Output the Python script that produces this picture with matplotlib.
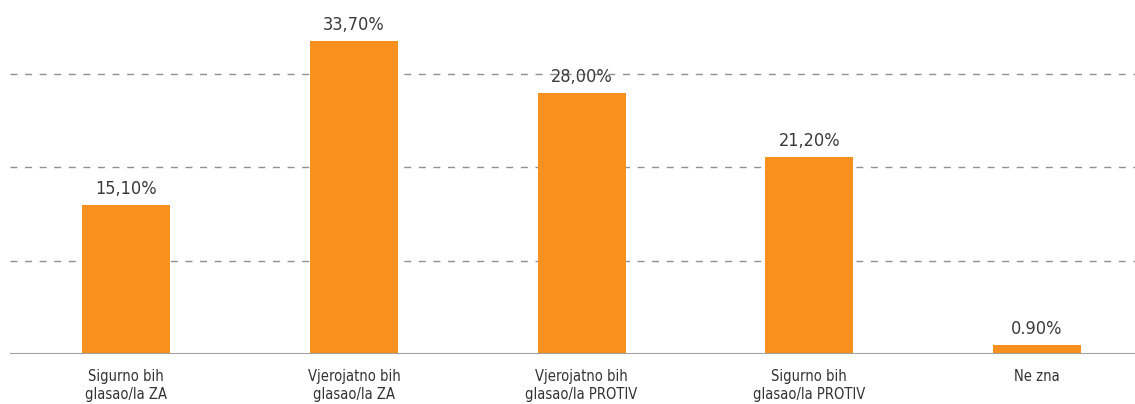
import matplotlib
matplotlib.use("Agg")
import matplotlib.pyplot as plt

categories = ["Sigurno bih\nglasao/la ZA", "Vjerojatno bih\nglasao/la ZA",
              "Vjerojatno bih\nglasao/la PROTIV", "Sigurno bih\nglasao/la PROTIV", "Ne zna"]
values = [15.9, 33.5, 27.9, 21.1, 0.95]
value_labels = ["15,10%", "33,70%", "28,00%", "21,20%", "0.90%"]
gridvals = [10, 20, 30]

plt.rcParams['font.family'] = ['Liberation Sans Narrow', 'DejaVu Sans']
plt.rcParams['font.stretch'] = 'condensed'

fig = plt.figure(figsize=(11.35, 4.04), dpi=100)
ax = fig.add_axes([10/1135, 50/404, 1 - 10/1135, 354/404])
x = list(range(len(values)))
ax.bar(x, values, width=0.386, color="#F7901E", zorder=3)
for g in gridvals:
    ax.axhline(g, color="#909090", linestyle=(0, (5, 5.5)), linewidth=1.0, zorder=1)
ax.axhline(0, color="#a0a0a0", linewidth=2.2, zorder=4)
for xi, v, lab in zip(x, values, value_labels):
    ax.text(xi, v + 0.75, lab, ha="center", va="bottom", fontsize=13, color="#3a3a3a",
            fontstretch='condensed')
ax.set_xlim(-0.51, 4.43)
ax.set_ylim(0, 37.9)
ax.set_xticks(x)
ax.set_xticklabels(categories, fontsize=10.5, color="#333333", linespacing=1.2,
                   fontstretch='condensed')
ax.tick_params(axis='x', length=0, pad=11)
ax.set_yticks([])
for s in ax.spines.values():
    s.set_visible(False)
fig.savefig("out.png", dpi=100)
